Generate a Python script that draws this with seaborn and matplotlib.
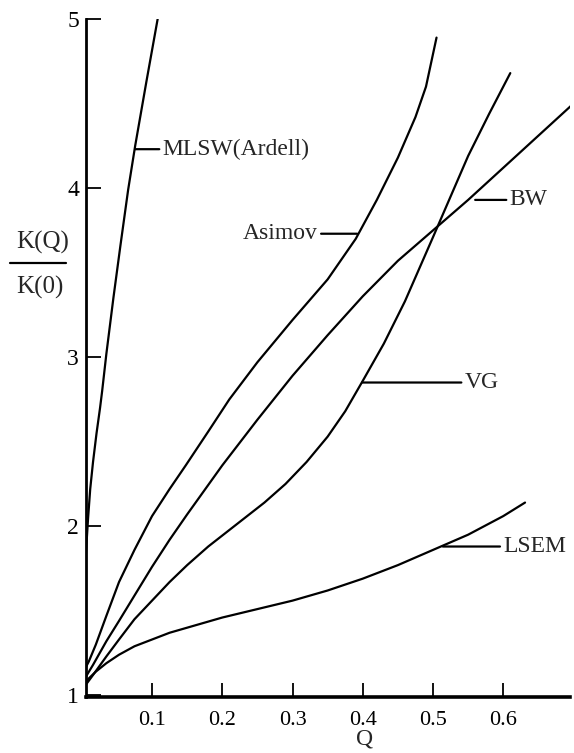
import numpy as np
import pandas as pd
import seaborn as sns
import matplotlib.pyplot as plt
from matplotlib.lines import Line2D

# curves (Q, K(Q)/K(0))
mlsw_q = [0.0, 0.002, 0.004, 0.006, 0.009, 0.012, 0.016, 0.021, 0.026, 0.029, 0.035, 0.045, 0.055, 0.066, 0.076, 0.092, 0.108]
mlsw_k = [1.0, 1.3, 1.6, 1.85, 2.05, 2.22, 2.38, 2.55, 2.70, 2.80, 3.02, 3.35, 3.66, 3.99, 4.25, 4.63, 5.0]

asimov_q = [0.0, 0.010, 0.020, 0.035, 0.053, 0.075, 0.100, 0.125, 0.148, 0.180, 0.210, 0.250, 0.300,
            0.350, 0.390, 0.420, 0.450, 0.475, 0.490, 0.505]
asimov_k = [1.12, 1.20, 1.30, 1.47, 1.67, 1.86, 2.06, 2.22, 2.36, 2.56, 2.75, 2.97, 3.22,
            3.46, 3.70, 3.93, 4.18, 4.42, 4.60, 4.89]

bw_q = [0.0, 0.016, 0.035, 0.053, 0.075, 0.100, 0.125, 0.150, 0.200, 0.250, 0.300, 0.350,
        0.400, 0.450, 0.500, 0.550, 0.600, 0.650, 0.700]
bw_k = [1.07, 1.18, 1.32, 1.44, 1.59, 1.76, 1.92, 2.07, 2.36, 2.63, 2.89, 3.13,
        3.36, 3.57, 3.75, 3.93, 4.12, 4.31, 4.50]

vg_q = [0.0, 0.016, 0.035, 0.053, 0.075, 0.100, 0.125, 0.150, 0.180, 0.220, 0.260, 0.290,
        0.320, 0.350, 0.375, 0.400, 0.430, 0.460, 0.500, 0.550, 0.580, 0.610]
vg_k = [1.03, 1.12, 1.23, 1.33, 1.45, 1.56, 1.67, 1.77, 1.88, 2.01, 2.14, 2.25,
        2.38, 2.53, 2.68, 2.86, 3.08, 3.33, 3.71, 4.19, 4.44, 4.68]

lsem_q = [0.0, 0.010, 0.020, 0.035, 0.053, 0.075, 0.100, 0.125, 0.150, 0.200, 0.250, 0.300,
          0.350, 0.400, 0.450, 0.500, 0.550, 0.600, 0.631]
lsem_k = [1.06, 1.10, 1.14, 1.19, 1.24, 1.29, 1.33, 1.37, 1.40, 1.46, 1.51, 1.56,
          1.62, 1.69, 1.77, 1.86, 1.95, 2.06, 2.14]

curves = {"MLSW(Ardell)": (mlsw_q, mlsw_k), "Asimov": (asimov_q, asimov_k),
          "BW": (bw_q, bw_k), "VG": (vg_q, vg_k), "LSEM": (lsem_q, lsem_k)}

# label text, leader start (on curve), leader end, text side
labels = [("MLSW(Ardell)", 0.076, 0.109, 4.23, "left"),
          ("Asimov", 0.392, 0.344, 3.73, "right"),
          ("BW", 0.560, 0.603, 3.93, "left"),
          ("VG", 0.399, 0.539, 2.85, "left"),
          ("LSEM", 0.514, 0.594, 1.88, "left")]

xticks = [0.1, 0.2, 0.3, 0.4, 0.5, 0.6]
yticks = [1, 2, 3, 4, 5]

df = pd.concat([pd.DataFrame({"Q": q, "ratio": k, "model": name})
                for name, (q, k) in curves.items()], ignore_index=True)

sns.set_theme(style="ticks")
plt.rcParams["font.family"] = ["Liberation Serif", "DejaVu Serif"]

fig = plt.figure(figsize=(5.74, 7.53), dpi=100)
W, H = 574, 753
ax = fig.add_axes([86 / W, (H - 697) / H, (570 - 86) / W, (697 - 19) / H])

sns.lineplot(data=df, x="Q", y="ratio", hue="model", units="model", estimator=None,
             sort=False, palette={n: "black" for n in curves}, linewidth=1.6,
             legend=False, ax=ax)

for text, x0, x1, y, side in labels:
    ax.annotate(text, xy=(x0, y), xytext=(x1, y), textcoords="data",
                ha="left" if side == "left" else "right", va="center", fontsize=17,
                arrowprops=dict(arrowstyle="-", color="black", lw=1.6, shrinkA=0, shrinkB=0))
# nudge text off the leader end
for t in ax.texts:
    t.set_position((t.get_position()[0] + (0.006 if t.get_ha() == "left" else -0.008),
                    t.get_position()[1]))

ax.set_xlim(0.006, 0.695)
ax.set_ylim(0.99, 5.0)
ax.set_xticks(xticks)
ax.set_xticklabels([f"{v:.1f}" for v in xticks])
ax.set_yticks(yticks)
ax.tick_params(axis="x", direction="in", length=10, width=1.3, labelsize=16, pad=10, colors="black")
ax.tick_params(axis="y", direction="in", length=11, width=1.3, labelsize=17, pad=5, colors="black")
sns.despine(ax=ax)
ax.spines["left"].set_linewidth(2.0)
ax.spines["bottom"].set_linewidth(2.6)
ax.spines["left"].set_color("black")
ax.spines["bottom"].set_color("black")

ax.set_xlabel("")
ax.set_ylabel("")
fig.text(365 / W, 1 - 744 / H, "Q", ha="center", va="baseline", fontsize=17)

fig.text(43 / W, 1 - 242 / H, "K(Q)", ha="center", va="center", fontsize=18)
fig.text(40 / W, 1 - 287 / H, "K(0)", ha="center", va="center", fontsize=18)
fig.add_artist(Line2D([10 / W, 66 / W], [1 - 263 / H, 1 - 263 / H], color="black", lw=1.6))

fig.savefig("out.png", dpi=100)
